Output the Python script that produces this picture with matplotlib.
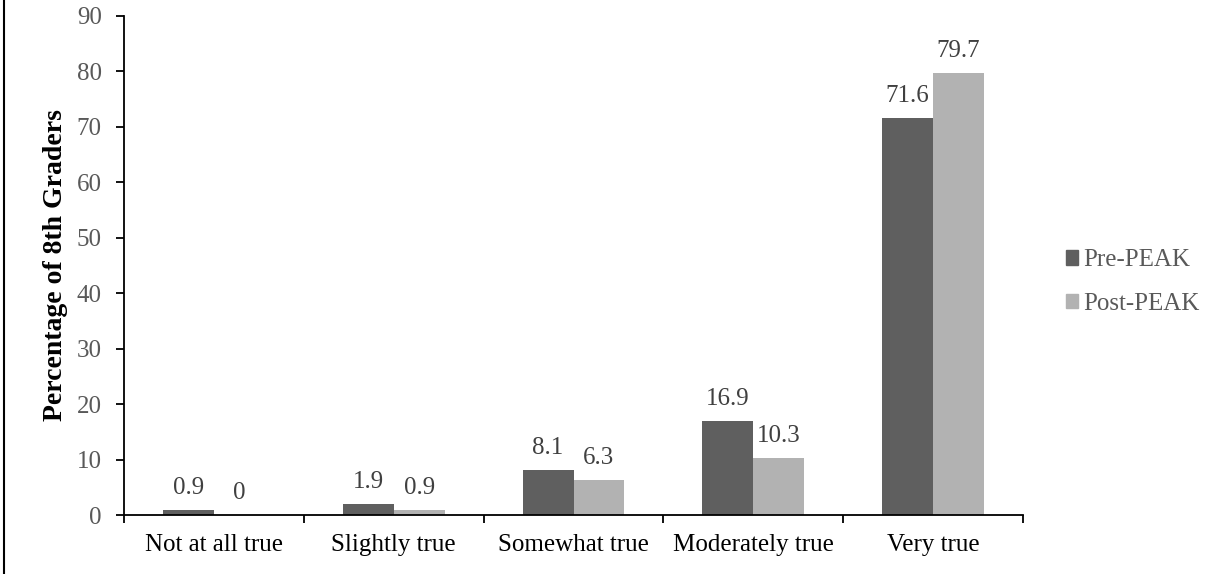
import matplotlib
matplotlib.use("Agg")
import matplotlib.pyplot as plt
import numpy as np
from matplotlib.lines import Line2D
from matplotlib.patches import Patch

categories = ["Not at all true", "Slightly true", "Somewhat true", "Moderately true", "Very true"]
pre_peak = [0.9, 1.9, 8.1, 16.9, 71.6]
post_peak = [0, 0.9, 6.3, 10.3, 79.7]
pre_labels = ["0.9", "1.9", "8.1", "16.9", "71.6"]
post_labels = ["0", "0.9", "6.3", "10.3", "79.7"]
series_names = ["Pre-PEAK", "Post-PEAK"]
yticks = [0, 10, 20, 30, 40, 50, 60, 70, 80, 90]

FONT = "Liberation Serif"
plt.rcParams['font.family'] = [FONT, "DejaVu Serif"]
FS = 18

W, H = 1215, 574
fig = plt.figure(figsize=(W / 100, H / 100), dpi=100)
ax = fig.add_axes([124 / W, 1 - 515 / H, (1023 - 124) / W, (515 - 16) / H])

x = np.arange(len(categories))
bw = 0.2833
c_pre = "#5f5f5f"
c_post = "#b2b2b2"
b1 = ax.bar(x - bw / 2, pre_peak, bw, color=c_pre, label=series_names[0])
b2 = ax.bar(x + bw / 2, post_peak, bw, color=c_post, label=series_names[1])

for rects, labs in ((b1, pre_labels), (b2, post_labels)):
    for r, t in zip(rects, labs):
        ax.annotate(t, (r.get_x() + r.get_width() / 2, r.get_height()),
                    xytext=(0, 8), textcoords="offset points",
                    ha="center", va="bottom", fontsize=FS, color="#404040")

ax.set_xlim(-0.5, len(categories) - 0.5)
ax.set_ylim(0, 90)
ax.set_yticks(yticks)
ax.set_yticklabels([str(v) for v in yticks], color="#595959", fontsize=FS)
ax.set_xticks(np.arange(-0.5, len(categories), 1.0))
ax.set_xticklabels([])
ax.set_xticks(x, minor=True)
ax.set_xticklabels(categories, minor=True, fontsize=FS, color="black")
ax.tick_params(axis="x", which="minor", length=0, pad=14)
ax.tick_params(axis="x", which="major", length=6, width=1.3, direction="out")
ax.tick_params(axis="y", length=6, width=1.3, direction="out", pad=10)

for s in ("top", "right"):
    ax.spines[s].set_visible(False)
for s in ("left", "bottom"):
    ax.spines[s].set_linewidth(1.3)
    ax.spines[s].set_color("black")

ax.set_ylabel("Percentage of 8th Graders", fontsize=20, fontweight="bold")
ax.yaxis.set_label_coords(-56 / (1023 - 124), 0.5)

handles = [Patch(color=c_pre), Patch(color=c_post)]
fig.legend(handles, series_names, loc="center left",
           bbox_to_anchor=(1043 / W, 1 - 282 / H), frameon=False,
           fontsize=FS, labelcolor="#595959", handlelength=0.5, handleheight=0.5,
           handletextpad=0.2, labelspacing=0.85)

fig.add_artist(Line2D([4 / W, 4 / W], [0, 1], color="black", lw=1.5,
                      transform=fig.transFigure))

fig.savefig("out.png", dpi=100)
